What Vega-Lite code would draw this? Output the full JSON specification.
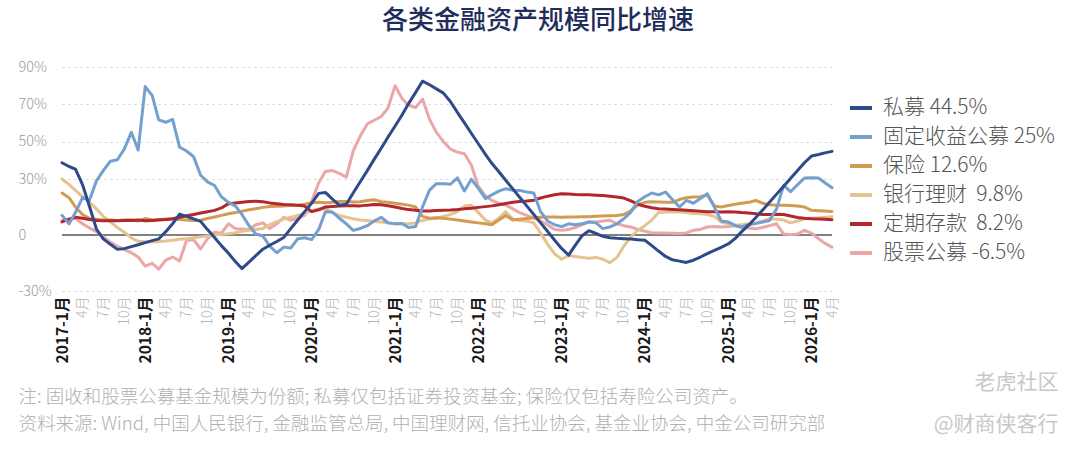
{
  "$schema": "https://vega.github.io/schema/vega-lite/v6.json",
  "width": 770,
  "height": 224,
  "padding": {"left": 18, "top": 8, "right": 10, "bottom": 5},
  "background": "white",
  "title": {
    "text": "各类金融资产规模同比增速",
    "font": "Noto Sans CJK SC",
    "fontSize": 26,
    "fontWeight": 500,
    "color": "#1f2d5c",
    "anchor": "middle",
    "frame": "bounds",
    "offset": 25
  },
  "layer": [
    {
      "data": {"values": [{}]},
      "mark": {"type": "rule", "color": "#808080", "strokeWidth": 2},
      "encoding": {
        "y": {
          "datum": 0,
          "type": "quantitative",
          "axis": {
            "orient": "right",
            "labels": false,
            "ticks": false,
            "domain": false,
            "grid": false,
            "title": ["老虎社区", "@财商侠客行"],
            "titleAngle": 0,
            "titleAlign": "right",
            "titleBaseline": "top",
            "titleX": 226,
            "titleY": 304,
            "titleFontSize": 21,
            "titleFontWeight": 400,
            "titleColor": "#c8c8c8",
            "titleLineHeight": 42
          }
        }
      }
    },
    {
      "data": {"values": [
        {"m":"2017-01","pe":38.7,"fi":10.5,"ins":22.5,"wm":30,"dep":7,"eq":7.9},
        {"m":"2017-02","pe":36.7,"fi":6,"ins":20,"wm":27,"dep":8.5,"eq":8.5},
        {"m":"2017-03","pe":35.3,"fi":12,"ins":15,"wm":23.9,"dep":9.5,"eq":8.8},
        {"m":"2017-04","pe":27,"fi":20,"ins":11,"wm":20.5,"dep":9,"eq":6},
        {"m":"2017-05","pe":15.5,"fi":18.5,"ins":9,"wm":17.6,"dep":8.3,"eq":3.8},
        {"m":"2017-06","pe":3.2,"fi":29,"ins":8.5,"wm":14,"dep":7.8,"eq":1.8},
        {"m":"2017-07","pe":-2.1,"fi":34.5,"ins":8,"wm":10,"dep":7.6,"eq":-1},
        {"m":"2017-08","pe":-5,"fi":39.5,"ins":8,"wm":7,"dep":7.6,"eq":-3.8},
        {"m":"2017-09","pe":-7.7,"fi":40.3,"ins":7.8,"wm":4,"dep":7.7,"eq":-6},
        {"m":"2017-10","pe":-7.3,"fi":46,"ins":8,"wm":1.5,"dep":7.8,"eq":-7.8},
        {"m":"2017-11","pe":-6.2,"fi":55,"ins":8.2,"wm":-1.5,"dep":7.8,"eq":-9.5},
        {"m":"2017-12","pe":-5.2,"fi":45.5,"ins":7.5,"wm":-3.4,"dep":8,"eq":-11.8},
        {"m":"2018-01","pe":-4.1,"fi":79.5,"ins":8.8,"wm":-3.6,"dep":7.6,"eq":-16.7},
        {"m":"2018-02","pe":-3,"fi":74.7,"ins":8,"wm":-3.7,"dep":7.8,"eq":-15.2},
        {"m":"2018-03","pe":-2.1,"fi":61.7,"ins":8.3,"wm":-3.5,"dep":8,"eq":-18.3},
        {"m":"2018-04","pe":1.8,"fi":60.4,"ins":8.5,"wm":-3.2,"dep":8.3,"eq":-13.5},
        {"m":"2018-05","pe":6,"fi":62,"ins":8.6,"wm":-2.8,"dep":8.7,"eq":-11.8},
        {"m":"2018-06","pe":11.2,"fi":47,"ins":8.3,"wm":-2.3,"dep":9.5,"eq":-13.9},
        {"m":"2018-07","pe":10,"fi":45,"ins":8,"wm":-2,"dep":10.3,"eq":-3},
        {"m":"2018-08","pe":8.6,"fi":42,"ins":7.8,"wm":-1.5,"dep":11,"eq":-2.5},
        {"m":"2018-09","pe":7.3,"fi":32,"ins":7.9,"wm":-1,"dep":11.8,"eq":-7.5},
        {"m":"2018-10","pe":2.9,"fi":28.5,"ins":8.8,"wm":-0.5,"dep":12.5,"eq":-2},
        {"m":"2018-11","pe":-1.4,"fi":26.5,"ins":9.6,"wm":0,"dep":13.2,"eq":1.5},
        {"m":"2018-12","pe":-5.7,"fi":20.5,"ins":10.5,"wm":0.3,"dep":14.5,"eq":1},
        {"m":"2019-01","pe":-9.8,"fi":17.5,"ins":11.4,"wm":0.7,"dep":16.8,"eq":6},
        {"m":"2019-02","pe":-14.3,"fi":15.5,"ins":12,"wm":1.2,"dep":17.2,"eq":3.4},
        {"m":"2019-03","pe":-18,"fi":11,"ins":12.7,"wm":2,"dep":17.6,"eq":3.2},
        {"m":"2019-04","pe":-14.5,"fi":5,"ins":13.5,"wm":2.5,"dep":18,"eq":3},
        {"m":"2019-05","pe":-11.1,"fi":0.5,"ins":14.1,"wm":3,"dep":18.1,"eq":5.5},
        {"m":"2019-06","pe":-7.6,"fi":-0.5,"ins":14.8,"wm":3.5,"dep":17.8,"eq":6.5},
        {"m":"2019-07","pe":-5.5,"fi":-6,"ins":15.3,"wm":5.5,"dep":17.2,"eq":3.5},
        {"m":"2019-08","pe":-3.5,"fi":-9.5,"ins":15.4,"wm":7.2,"dep":16.8,"eq":6},
        {"m":"2019-09","pe":-1.3,"fi":-6.5,"ins":15.6,"wm":8.5,"dep":16.4,"eq":9.5},
        {"m":"2019-10","pe":3.4,"fi":-7,"ins":15.8,"wm":9.5,"dep":16.2,"eq":7.9},
        {"m":"2019-11","pe":8,"fi":-2,"ins":16,"wm":10.5,"dep":15.9,"eq":9},
        {"m":"2019-12","pe":12.5,"fi":-1.5,"ins":16.5,"wm":11.5,"dep":15.5,"eq":10.5},
        {"m":"2020-01","pe":17.1,"fi":-2.5,"ins":17.3,"wm":13,"dep":12.5,"eq":18},
        {"m":"2020-02","pe":22.3,"fi":3,"ins":17.6,"wm":14,"dep":13.5,"eq":28},
        {"m":"2020-03","pe":22.8,"fi":12.5,"ins":17.3,"wm":14.1,"dep":15,"eq":34},
        {"m":"2020-04","pe":19.2,"fi":12.3,"ins":17.5,"wm":12,"dep":15.3,"eq":34.5},
        {"m":"2020-05","pe":16,"fi":9,"ins":18,"wm":10.5,"dep":15.6,"eq":33},
        {"m":"2020-06","pe":16.5,"fi":6,"ins":18,"wm":9.5,"dep":15.7,"eq":31},
        {"m":"2020-07","pe":22.5,"fi":2.5,"ins":17.7,"wm":8.7,"dep":15.7,"eq":45},
        {"m":"2020-08","pe":28.5,"fi":3.5,"ins":17.8,"wm":8,"dep":15.6,"eq":53},
        {"m":"2020-09","pe":34.5,"fi":5,"ins":18.5,"wm":7.8,"dep":16,"eq":59.5},
        {"m":"2020-10","pe":40.5,"fi":7.5,"ins":18.9,"wm":7.2,"dep":16.3,"eq":61.5},
        {"m":"2020-11","pe":46.5,"fi":9.5,"ins":17.8,"wm":6.9,"dep":16.2,"eq":63.5},
        {"m":"2020-12","pe":52.5,"fi":6.5,"ins":17.6,"wm":6.5,"dep":15.7,"eq":68},
        {"m":"2021-01","pe":58.4,"fi":6,"ins":17,"wm":6,"dep":15,"eq":80},
        {"m":"2021-02","pe":64.4,"fi":6.2,"ins":16.5,"wm":6,"dep":14.2,"eq":73},
        {"m":"2021-03","pe":70.4,"fi":4,"ins":16,"wm":6,"dep":13.6,"eq":69.5},
        {"m":"2021-04","pe":76.4,"fi":4.5,"ins":15,"wm":6.5,"dep":13.2,"eq":68.3},
        {"m":"2021-05","pe":82.4,"fi":15,"ins":10,"wm":7.8,"dep":12.9,"eq":72.8},
        {"m":"2021-06","pe":80.5,"fi":24,"ins":9,"wm":8.7,"dep":12.9,"eq":62},
        {"m":"2021-07","pe":78.3,"fi":27.5,"ins":9.2,"wm":9,"dep":13.1,"eq":55},
        {"m":"2021-08","pe":76,"fi":27.5,"ins":9,"wm":10,"dep":13.3,"eq":50},
        {"m":"2021-09","pe":71.4,"fi":27.2,"ins":8.5,"wm":11,"dep":13.4,"eq":46},
        {"m":"2021-10","pe":65.7,"fi":30.6,"ins":8,"wm":12.5,"dep":13.6,"eq":44.4},
        {"m":"2021-11","pe":60.1,"fi":23.6,"ins":7.5,"wm":15.5,"dep":14,"eq":43.5},
        {"m":"2021-12","pe":54.5,"fi":29.9,"ins":7,"wm":15.9,"dep":14.3,"eq":37.5},
        {"m":"2022-01","pe":48.9,"fi":25,"ins":6.5,"wm":12,"dep":14.8,"eq":26},
        {"m":"2022-02","pe":43.2,"fi":19.5,"ins":6,"wm":8,"dep":15.2,"eq":21},
        {"m":"2022-03","pe":38.4,"fi":21.5,"ins":5.5,"wm":6.5,"dep":15.6,"eq":18.5},
        {"m":"2022-04","pe":33.9,"fi":23.5,"ins":8,"wm":9,"dep":16.2,"eq":17},
        {"m":"2022-05","pe":29.3,"fi":24.8,"ins":10.5,"wm":12.5,"dep":16.9,"eq":16},
        {"m":"2022-06","pe":24.7,"fi":24,"ins":8,"wm":8.5,"dep":17.5,"eq":14},
        {"m":"2022-07","pe":20.2,"fi":23.9,"ins":8.5,"wm":7.8,"dep":17.9,"eq":12},
        {"m":"2022-08","pe":15.6,"fi":23,"ins":8.8,"wm":7.5,"dep":18.2,"eq":10.5},
        {"m":"2022-09","pe":11,"fi":22.5,"ins":9.2,"wm":6.5,"dep":18.6,"eq":9},
        {"m":"2022-10","pe":6.5,"fi":12.5,"ins":9.5,"wm":1,"dep":19.8,"eq":7.5},
        {"m":"2022-11","pe":1.9,"fi":7.5,"ins":9.6,"wm":-5,"dep":20.8,"eq":5.5},
        {"m":"2022-12","pe":-2.7,"fi":5.5,"ins":9.6,"wm":-10,"dep":21.6,"eq":3},
        {"m":"2023-01","pe":-7.2,"fi":4.5,"ins":9.5,"wm":-13,"dep":22.1,"eq":2.5},
        {"m":"2023-02","pe":-10.8,"fi":6,"ins":9.6,"wm":-11,"dep":21.9,"eq":3},
        {"m":"2023-03","pe":-5.7,"fi":5.5,"ins":9.6,"wm":-11.5,"dep":21.7,"eq":4},
        {"m":"2023-04","pe":-0.4,"fi":6,"ins":9.8,"wm":-12,"dep":21.6,"eq":5.5},
        {"m":"2023-05","pe":2.3,"fi":7,"ins":9.8,"wm":-12.5,"dep":21.5,"eq":7},
        {"m":"2023-06","pe":0.8,"fi":6.5,"ins":10,"wm":-12,"dep":21.3,"eq":7},
        {"m":"2023-07","pe":-0.7,"fi":3.4,"ins":10.2,"wm":-13,"dep":21.1,"eq":7.5},
        {"m":"2023-08","pe":-1.5,"fi":4.3,"ins":10.3,"wm":-14.8,"dep":20.8,"eq":7.9},
        {"m":"2023-09","pe":-1.8,"fi":6,"ins":10.4,"wm":-12,"dep":20.4,"eq":6},
        {"m":"2023-10","pe":-2,"fi":8.7,"ins":11,"wm":-6,"dep":19.8,"eq":5},
        {"m":"2023-11","pe":-2.2,"fi":12.3,"ins":13,"wm":-1,"dep":18.3,"eq":4.3},
        {"m":"2023-12","pe":-2.5,"fi":18,"ins":16,"wm":2.5,"dep":16.5,"eq":3},
        {"m":"2024-01","pe":-2.8,"fi":20.5,"ins":17.5,"wm":5,"dep":15.4,"eq":2},
        {"m":"2024-02","pe":-5.7,"fi":22.5,"ins":17.8,"wm":8,"dep":14.6,"eq":1.2},
        {"m":"2024-03","pe":-8.6,"fi":21.5,"ins":17.7,"wm":12,"dep":14.1,"eq":1.1},
        {"m":"2024-04","pe":-11.5,"fi":23,"ins":17.6,"wm":12.3,"dep":13.9,"eq":1.1},
        {"m":"2024-05","pe":-13.3,"fi":19,"ins":17.5,"wm":12.3,"dep":13.7,"eq":1},
        {"m":"2024-06","pe":-14,"fi":15,"ins":19,"wm":12.3,"dep":13.5,"eq":0.8},
        {"m":"2024-07","pe":-14.7,"fi":18.5,"ins":20,"wm":12,"dep":13.3,"eq":1.1},
        {"m":"2024-08","pe":-13.5,"fi":17,"ins":20.3,"wm":11.5,"dep":13,"eq":2.5},
        {"m":"2024-09","pe":-11.8,"fi":19.5,"ins":20.5,"wm":11.4,"dep":12.7,"eq":3},
        {"m":"2024-10","pe":-10,"fi":22.1,"ins":21.5,"wm":11,"dep":12.4,"eq":4.3},
        {"m":"2024-11","pe":-8.3,"fi":15,"ins":15.5,"wm":10,"dep":12.4,"eq":4.5},
        {"m":"2024-12","pe":-6.6,"fi":7.5,"ins":15,"wm":7,"dep":12.3,"eq":4.3},
        {"m":"2025-01","pe":-4.8,"fi":7,"ins":15.8,"wm":6,"dep":12.5,"eq":4.5},
        {"m":"2025-02","pe":-1.8,"fi":5,"ins":16.5,"wm":5.2,"dep":12.3,"eq":5},
        {"m":"2025-03","pe":1.8,"fi":4.3,"ins":17,"wm":5.5,"dep":12,"eq":4},
        {"m":"2025-04","pe":5.4,"fi":5.5,"ins":17.5,"wm":6,"dep":11.8,"eq":3.8},
        {"m":"2025-05","pe":9.2,"fi":6.1,"ins":18.5,"wm":6.5,"dep":11.4,"eq":3.4},
        {"m":"2025-06","pe":13.4,"fi":7,"ins":17,"wm":7.5,"dep":11,"eq":4},
        {"m":"2025-07","pe":17.6,"fi":7.8,"ins":16.2,"wm":8.7,"dep":11,"eq":5},
        {"m":"2025-08","pe":21.9,"fi":14,"ins":16,"wm":8.5,"dep":11.1,"eq":6},
        {"m":"2025-09","pe":26.1,"fi":26.6,"ins":15.9,"wm":8,"dep":11,"eq":0.5},
        {"m":"2025-10","pe":30.3,"fi":23.2,"ins":15.8,"wm":6.5,"dep":10.2,"eq":0.2},
        {"m":"2025-11","pe":34.5,"fi":27,"ins":15.5,"wm":7.5,"dep":9.4,"eq":0.5},
        {"m":"2025-12","pe":38.7,"fi":30.5,"ins":15,"wm":8.7,"dep":9,"eq":2.5},
        {"m":"2026-01","pe":42.3,"fi":30.7,"ins":13.2,"wm":9,"dep":8.7,"eq":1},
        {"m":"2026-02","pe":43.1,"fi":30.5,"ins":13,"wm":9.2,"dep":8.6,"eq":-2},
        {"m":"2026-03","pe":44,"fi":28,"ins":12.8,"wm":9.5,"dep":8.4,"eq":-4.5},
        {"m":"2026-04","pe":44.8,"fi":25.3,"ins":12.6,"wm":9.8,"dep":8.2,"eq":-6.5}
      ]},
      "transform": [{"fold": ["eq", "wm", "ins", "dep", "fi", "pe"], "as": ["series", "value"]}],
      "mark": {"type": "line", "strokeWidth": 3, "strokeJoin": "round", "strokeCap": "round"},
      "encoding": {
        "x": {
          "field": "m",
          "type": "temporal",
          "scale": {
            "type": "utc",
            "domain": [
              {"year": 2017, "month": 1, "date": 1, "utc": true},
              {"year": 2026, "month": 4, "date": 1, "utc": true}
            ]
          },
          "axis": {
            "tickCount": {"interval": "month", "step": 3},
            "labelExpr": "utcmonth(datum.value) == 0 ? utcyear(datum.value) + '-1月' : (utcmonth(datum.value) + 1) + '月'",
            "labelAngle": -90,
            "labelAlign": "right",
            "labelBaseline": "middle",
            "labelPadding": 5,
            "labelOverlap": false,
            "labelFlush": false,
            "labelBound": false,
            "labelColor": {"condition": {"test": "utcmonth(datum.value) == 0", "value": "#1a1a1a"}, "value": "#b5b5b5"},
            "labelFontWeight": {"condition": {"test": "utcmonth(datum.value) == 0", "value": 700}, "value": 300},
            "labelFontSize": {"condition": {"test": "utcmonth(datum.value) == 0", "value": 15.5}, "value": 14},
            "ticks": false,
            "domain": false,
            "grid": false,
            "title": [
              "注: 固收和股票公募基金规模为份额; 私募仅包括证券投资基金; 保险仅包括寿险公司资产。",
              "资料来源: Wind, 中国人民银行, 金融监管总局, 中国理财网, 信托业协会, 基金业协会, 中金公司研究部"
            ],
            "titleColor": "#b0b0b0",
            "titleFontSize": 18.5,
            "titleFontWeight": 300,
            "titleAlign": "left",
            "titleAnchor": "start",
            "titleBaseline": "top",
            "titleX": -44,
            "titleY": 96,
            "titleLineHeight": 27
          }
        },
        "y": {
          "field": "value",
          "type": "quantitative",
          "scale": {"domain": [-30, 90], "nice": false},
          "axis": {
            "orient": "left",
            "values": [-30, 0, 30, 50, 70, 90],
            "labelExpr": "datum.value == 0 ? '0' : datum.value + '%'",
            "labelAlign": "left",
            "labelPadding": 44,
            "labelColor": "#9a9a9a",
            "labelFontSize": 14.5,
            "labelFontWeight": 300,
            "ticks": false,
            "domain": false,
            "grid": true,
            "gridColor": "#cfcfcf",
            "gridDash": [2, 4],
            "gridWidth": 1,
            "gridOpacity": {"condition": {"test": "datum.value == 0", "value": 0}, "value": 1},
            "title": null
          }
        },
        "color": {
          "field": "series",
          "type": "nominal",
          "scale": {
            "domain": ["pe", "fi", "ins", "wm", "dep", "eq"],
            "range": ["#2f4a8a", "#74a0d0", "#d19b52", "#e6c291", "#b1272d", "#eba6a8"]
          },
          "legend": {
            "orient": "none",
            "legendX": 786,
            "legendY": 28,
            "padding": 0,
            "title": null,
            "symbolType": "stroke",
            "symbolStrokeWidth": 4,
            "symbolSize": 484,
            "labelFontSize": 21,
            "labelFontWeight": 300,
            "labelColor": "#555555",
            "labelOffset": 9,
            "labelLimit": 300,
            "rowPadding": 6,
            "labelExpr": "datum.label == 'pe' ? '私募 44.5%' : datum.label == 'fi' ? '固定收益公募 25%' : datum.label == 'ins' ? '保险 12.6%' : datum.label == 'wm' ? '银行理财\u00a0 9.8%' : datum.label == 'dep' ? '定期存款\u00a0 8.2%' : '股票公募 -6.5%'"
          }
        }
      }
    }
  ],
  "resolve": {"axis": {"y": "independent"}},
  "config": {
    "view": {"stroke": null},
    "font": "Noto Sans CJK SC"
  }
}
